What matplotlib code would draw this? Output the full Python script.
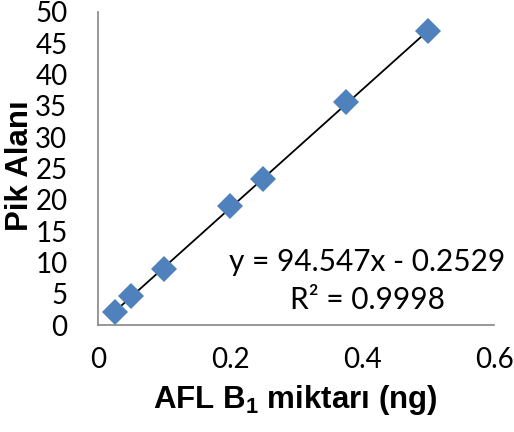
import matplotlib
matplotlib.use('Agg')
import matplotlib.pyplot as plt
import numpy as np

# AFL B1 calibration data
amount_ng = [0.025, 0.05, 0.1, 0.2, 0.25, 0.375, 0.5]
peak_area = [2.1, 4.6, 9.0, 19.0, 23.4, 35.6, 47.0]
slope = 94.547
intercept = -0.2529
r_squared = 0.9998

x_ticks = [0, 0.2, 0.4, 0.6]
x_tick_labels = ['0', '0.2', '0.4', '0.6']
y_ticks = [0, 5, 10, 15, 20, 25, 30, 35, 40, 45, 50]

plt.rcParams['mathtext.fontset'] = 'custom'
plt.rcParams['mathtext.rm'] = 'Liberation Sans'
plt.rcParams['mathtext.bf'] = 'Liberation Sans:bold'

W, H = 514, 432
fig = plt.figure(figsize=(W / 100, H / 100), dpi=100)
ax = fig.add_axes([98 / W, 1 - 325 / H, 396 / W, 313 / H])

tick_font = 'Lato'
label_font = 'Liberation Sans'

# trendline from the fitted coefficients
x_line = np.array([min(amount_ng), max(amount_ng)])
ax.plot(x_line, slope * x_line + intercept, color='black', lw=1.3, zorder=2)
ax.plot(amount_ng, peak_area, 'D', color='#4F81BD', markersize=13.5,
        markeredgewidth=0, zorder=3)

ax.set_xlim(0, 0.6)
ax.set_ylim(0, 50)
ax.set_xticks(x_ticks)
ax.set_xticklabels(x_tick_labels)
ax.set_yticks(y_ticks)
ax.tick_params(length=0, labelsize=20)
ax.tick_params(axis='y', pad=22)
ax.tick_params(axis='x', pad=16)
for lab in ax.get_xticklabels() + ax.get_yticklabels():
    lab.set_family(tick_font)

for side in ['top', 'right']:
    ax.spines[side].set_visible(False)
for side in ['left', 'bottom']:
    ax.spines[side].set_color('#868686')
    ax.spines[side].set_linewidth(1.2)

fig.text(367 / W, 1 - 262 / H, f'y = {slope}x - {abs(intercept)}',
         ha='center', va='center', fontsize=21.5, family=tick_font)
fig.text(368 / W, 1 - 300 / H, f'R² = {r_squared}',
         ha='center', va='center', fontsize=21.5, family=tick_font)

fig.text(295 / W, 1 - 400 / H, r'AFL B$_\mathbf{1}$ miktarı (ng)',
         ha='center', va='center', fontsize=22.5, fontweight='bold',
         family=label_font)
fig.text(20 / W, 1 - 166 / H, 'Pik Alanı', rotation=90,
         ha='center', va='center', fontsize=22.5, fontweight='bold',
         family=label_font)

fig.savefig('out.png', dpi=100)
